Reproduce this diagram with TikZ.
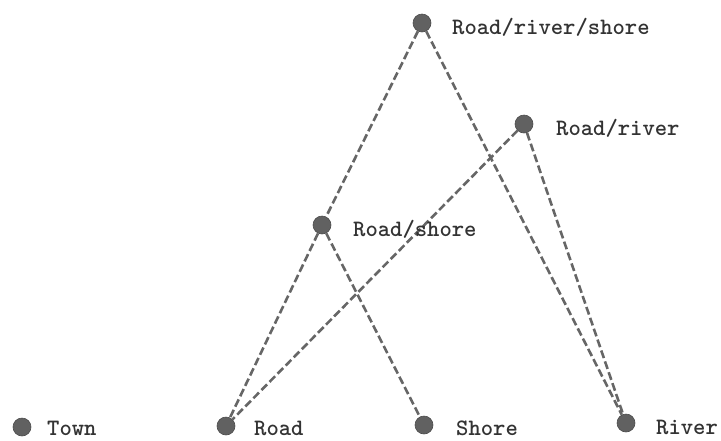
\documentclass[tikz,border=0pt]{standalone}
\begin{document}
\begin{tikzpicture}[x=1pt,y=-1pt,
  dot/.style={circle,fill=black!62,draw=black!70,line width=0.6pt,minimum size=18pt,inner sep=0pt},
  lbl/.style={anchor=west,inner sep=0pt,text=black!80,font=\ttfamily\bfseries\fontsize{23.5}{25}\selectfont},
  link/.style={draw=black!60,line width=2.6pt,dash pattern=on 8pt off 3.5pt}]
\useasboundingbox (0,0) rectangle (721,440);
\node[dot] (town) at (22,427) {};
\node[dot] (road) at (226,426) {};
\node[dot] (shore) at (424,425) {};
\node[dot] (river) at (626,423) {};
\node[dot] (rs) at (322,225) {};
\node[dot] (rr) at (524,124) {};
\node[dot] (rrs) at (422,23) {};
\draw[link] (rrs) -- (rs);
\draw[link] (rs) -- (road);
\draw[link] (rs) -- (shore);
\draw[link] (rrs) -- (river);
\draw[link] (rr) -- (road);
\draw[link] (rr) -- (river);
\node[lbl] (ltown) at (47,428) {Town};
\node[lbl] (lroad) at (254,428) {Road};
\node[lbl] (lshore) at (456,428) {Shore};
\node[lbl] (lriver) at (656,427) {River};
\node[lbl] (lrs) at (353,229) {Road/shore};
\node[lbl] (lrr) at (556,128) {Road/river};
\node[lbl] (lrrs) at (452,27) {Road/river/shore};
\end{tikzpicture}
\end{document}
